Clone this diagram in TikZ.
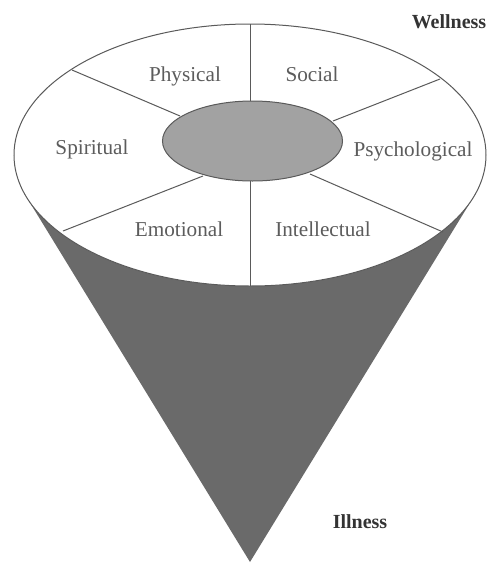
\documentclass[tikz,border=0pt]{standalone}
\usepackage{fontspec}
\setmainfont{Liberation Serif}
\definecolor{conegray}{HTML}{6A6A6A}
\definecolor{hubgray}{HTML}{A2A2A2}
\definecolor{linegray}{HTML}{5A5A5A}
\definecolor{labelgray}{HTML}{5C5C5C}
\definecolor{titlegray}{HTML}{333333}
\begin{document}
\begin{tikzpicture}[x=1pt,y=-1pt,
  rim/.style={draw=linegray,line width=1pt},
  spoke/.style={draw=linegray,line width=1pt},
  dimlabel/.style={text=labelgray,font=\fontsize{21.2}{24}\selectfont,inner sep=0pt,anchor=base},
  endlabel/.style={text=titlegray,font=\fontsize{20}{24}\selectfont\bfseries,inner sep=0pt,anchor=base}]
\useasboundingbox (0,0) rectangle (487,563);
% cone
\coordinate (apex) at (250,562);
\coordinate (tl) at (26.6,197.2);
\coordinate (tr) at (473.4,197.2);
\fill[conegray] (apex) -- (tl) -- (250,155) -- (tr) -- cycle;
% outer disc
\path[rim,fill=white] (250,155) ellipse [x radius=236, y radius=131];
% spokes
\coordinate (o1) at (72,70);   \coordinate (i1) at (180,116);
\coordinate (o2) at (440,79);  \coordinate (i2) at (333,121);
\coordinate (o3) at (63,231);  \coordinate (i3) at (203,176);
\coordinate (o4) at (443,232); \coordinate (i4) at (310,174);
\coordinate (ot) at (250,24);  \coordinate (it) at (250,101);
\coordinate (ob) at (250,286); \coordinate (ib) at (250,181);
\draw[spoke] (o1) -- (i1);
\draw[spoke] (o2) -- (i2);
\draw[spoke] (o3) -- (i3);
\draw[spoke] (o4) -- (i4);
\draw[spoke] (ot) -- (it);
\draw[spoke] (ob) -- (ib);
% hub
\path[rim,fill=hubgray] (252.5,141) ellipse [x radius=90, y radius=40];
% labels
\node[dimlabel] (physical) at (185,81) {Physical};
\node[dimlabel] (social) at (312,81) {Social};
\node[dimlabel] (spiritual) at (92,154) {Spiritual};
\node[dimlabel] (psych) at (413,156) {Psychological};
\node[dimlabel] (emotional) at (179,236) {Emotional};
\node[dimlabel] (intellectual) at (323,236) {Intellectual};
\node[endlabel] (wellness) at (449,28) {Wellness};
\node[endlabel] (illness) at (360,528) {Illness};
\end{tikzpicture}
\end{document}
